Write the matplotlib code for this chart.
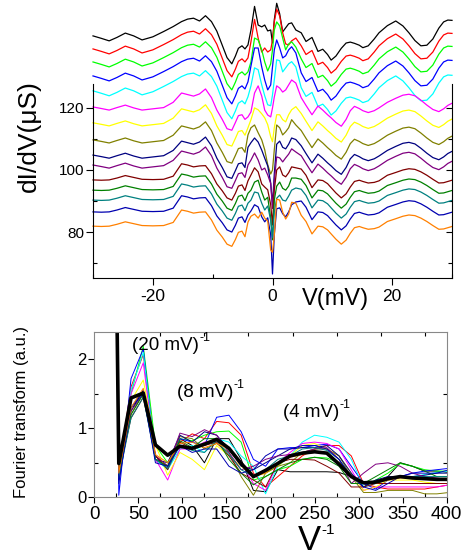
import numpy as np
import matplotlib
matplotlib.use('Agg')
import matplotlib.pyplot as plt
from matplotlib.ticker import MultipleLocator, FixedLocator

plt.rcParams['font.family'] = ['Liberation Sans', 'DejaVu Sans']
plt.rcParams['mathtext.fontset'] = 'custom'
plt.rcParams['mathtext.rm'] = 'Liberation Sans'
plt.rcParams['mathtext.it'] = 'Liberation Sans:italic'
plt.rcParams['axes.unicode_minus'] = False

# ---- top panel: dI/dV spectra (offset curves) ----
COLORS = ['#000000', '#ff0000', '#00ff00', '#0000ff', '#00ffff', '#ff00ff', '#ffff00',
          '#808000', '#000080', '#800080', '#800000', '#008000', '#008080', '#0000b0', '#ff8000']
START = [143.2, 139.0, 134.8, 130.3, 125.5, 120.3, 115.2, 109.7, 104.8, 101.6, 96.8, 93.5, 90.3, 86.5, 81.9]
GROUP = [0, 0, 0, 0, 0, 1, 1, 1, 1, 1, 2, 2, 2, 2, 2]

V_LEFT = [-30, -28.6, -27.3, -26, -24.6, -23.2, -21.8, -20, -18.2, -16.6, -15.2, -14.2, -13.2,
          -12.2, -11.2, -10.2, -9.3, -8.4, -7.6, -6.8, -6.2, -5.7, -5.1, -4.6]
LEFT_TOP = [0, -0.8, -1.6, -0.5, 0.9, 0.0, -1.3, -0.3, 1.4, 3.0, 4.6, 5.4, 5.7, 4.8, 6.5, 4.6,
            1.5, -3.0, -7.0, -9.0, -6.5, -4.0, -3.2, -4.2]
LEFT_MID = [0, -0.5, -1.0, -0.2, 0.6, -0.3, -1.0, -0.6, -0.2, 1.5, 4.5, 4.0, 3.5, 4.2, 5.8, 3.0,
            -1.0, -4.0, -7.0, -7.5, -5.0, -2.8, -2.5, -4.0]
LEFT_BOT = [0, -0.1, 0.0, 0.6, 1.4, 0.8, 0.2, 0.1, 0.2, 1.2, 5.2, 4.8, 4.2, 4.5, 4.6, 2.0,
            -1.3, -3.5, -5.8, -6.5, -4.3, -2.0, -1.6, -3.4]

V_CENTER = [-4.1, -3.6, -3.0, -2.4, -1.8, -1.3, -0.8, -0.3, 0.0, 0.3, 0.7, 1.2, 1.7, 2.2, 2.7, 3.2, 3.9]
CENTER = [
    [-2.9, 1.9, 9.5, 3.5, 2.9, 3.5, 1.6, 1.9, -2.3, 5.2, 10.5, 7.1, 1.3, 2.6, 3.9, 4.2, 1.9],
    [-2.9, 2.3, 9.5, 3.5, -1.0, 0.3, -1.0, -0.3, 2.9, 8.7, 12.8, 10.6, 5.2, 1.6, 1.3, 2.6, 3.5],
    [-3.2, 0.0, 7.7, 7.1, 3.9, 0.0, -2.9, -0.6, 3.9, 10.3, 12.9, 11.6, 7.7, 3.9, 5.8, 6.5, 4.8],
    [-1.9, 3.2, 9.0, 9.0, 2.9, -1.3, -4.5, -2.9, 2.9, 8.4, 11.6, 9.0, 5.8, 6.5, 8.4, 9.4, 7.4],
    [-1.9, 1.6, 7.4, 6.8, 1.9, -1.6, -4.5, -4.8, -1.3, 3.5, 10.0, 9.7, 6.1, 7.4, 8.7, 9.4, 7.7],
    [-3.2, -1.6, 4.5, 6.8, 3.5, -1.0, -2.6, -3.2, -0.3, 3.2, 6.8, 6.1, 4.8, 5.5, 7.1, 8.7, 7.7],
    [-1.6, 1.0, 4.8, 4.2, 2.9, 1.6, -0.6, -4.5, -6.1, -1.6, 2.6, 2.6, 1.0, 0.3, 2.6, 4.2, 5.2],
    [1.6, 3.9, 4.8, 2.3, 0.0, -3.2, -8.0, -11.0, -9.7, -3.2, 4.8, 3.9, 1.6, 2.6, 3.9, 6.5, 4.8],
    [2.5, 4.0, 5.5, 4.2, 1.6, -1.0, -3.5, -9.0, -16.0, -6.0, 3.5, 4.5, 2.5, 2.0, 3.5, 5.5, 5.0],
    [0.0, 1.6, 3.9, 1.6, -1.6, -1.0, -3.2, -6.0, -14.0, -5.0, 2.6, 2.3, 1.0, 2.3, 3.5, 5.2, 4.2],
    [-0.3, 1.6, 3.9, 2.6, -1.3, -2.3, -3.2, -8.0, -14.5, -3.2, 3.2, 4.2, 1.6, 1.0, 2.3, 4.2, 3.9],
    [-1.0, 0.0, 2.6, 3.2, -0.6, -3.2, -2.3, -9.0, -16.0, -3.2, 1.3, 2.6, 0.6, 0.0, 1.3, 3.9, 3.9],
    [-1.0, 0.0, 2.6, 2.3, -1.0, -3.2, -1.9, -6.5, -12.0, -3.9, 0.6, 1.6, 0.0, -0.3, 1.3, 3.2, 3.9],
    [-1.0, 0.3, 2.3, 1.6, -1.6, -3.2, -1.9, -7.4, -20.0, -7.4, 1.0, 1.3, -0.6, -1.6, 0.0, 2.3, 3.2],
    [1.3, 3.2, 3.9, 2.6, 4.5, 2.6, 1.6, -7.7, -8.4, -2.9, 8.7, 8.4, 4.5, 2.3, 3.9, 7.7, 7.4],
]

V_RIGHT = [4.8, 5.6, 6.6, 7.6, 8.4, 9.2, 9.8, 10.6, 11.5, 12.3, 13.0, 13.7, 14.5, 15.1, 16.0,
           17.0, 17.8, 19.2, 20.6, 21.8, 22.8, 23.8, 24.8, 25.8, 26.8, 27.8, 28.6, 29.3, 30.0]
RIGHT_TOP = [1.0, -1.8, -0.5, -5.0, -4.3, -6.0, -7.8, -6.5, -4.0, -2.3, -2.0, -2.4, -3.0, -3.8,
             -3.2, -1.0, 1.0, 3.3, 4.8, 3.2, 1.0, -1.5, -3.2, -3.0, -1.0, 2.5, 4.5, 5.1, 5.0]
RIGHT_MID = [3.0, 0.5, -2.5, 0.3, -1.0, -2.5, -3.5, -5.0, -6.2, -4.0, -1.2, 0.2, -0.5, -1.2,
             -1.8, -1.2, -0.3, 1.5, 2.8, 3.8, 4.1, 3.6, 2.2, 0.6, -0.8, -1.5, -0.6, 0.5, 1.2]
RIGHT_BOT = [3.5, 1.5, -2.5, 0.0, -0.2, -1.2, -2.5, -4.2, -5.8, -4.5, -2.3, -0.5, -0.1, -0.5,
             -1.0, -0.8, -0.3, 1.5, 2.4, 3.2, 3.6, 3.4, 2.6, 1.5, 0.2, -1.0, -0.9, -0.5, -0.1]

LEFT = [LEFT_TOP, LEFT_MID, LEFT_BOT]
RIGHT = [RIGHT_TOP, RIGHT_MID, RIGHT_BOT]

# ---- bottom panel: Fourier transforms ----
FREQ = [13.9, 27.8, 41.7, 55.6, 69.4, 83.3, 97.2, 111.1, 125.0, 138.9, 152.8, 166.7, 180.6, 194.4,
        208.3, 222.2, 236.1, 250.0, 263.9, 277.8, 291.7, 305.6, 319.4, 333.3, 347.2, 361.1, 375.0,
        388.9, 402.8]
FT = [
    [15, 0.45, 1.25, 1.55, 0.6, 0.45, 0.85, 0.75, 0.5, 0.85, 0.85, 0.55, 0.1, 0.08, 0.4, 0.37, 0.37, 0.37, 0.37, 0.36, 0.3, 0.2, 0.2, 0.3, 0.5, 0.45, 0.38, 0.38, 0.36],
    [18, 0.4, 1.6, 2.07, 0.6, 0.45, 0.8, 0.92, 0.85, 1.1, 1.08, 0.9, 0.35, 0.15, 0.3, 0.45, 0.6, 0.7, 0.75, 0.75, 0.6, 0.2, 0.15, 0.12, 0.12, 0.12, 0.12, 0.15, 0.18],
    [20, 0.3, 1.5, 2.19, 0.75, 0.5, 0.85, 0.82, 0.9, 0.95, 0.96, 0.8, 0.25, 0.3, 0.4, 0.45, 0.55, 0.58, 0.57, 0.5, 0.3, 0.15, 0.25, 0.35, 0.49, 0.45, 0.4, 0.38, 0.38],
    [25, 0.03, 1.72, 2.15, 0.55, 0.42, 0.85, 0.8, 0.75, 1.16, 1.19, 0.95, 0.55, 0.45, 0.7, 0.72, 0.72, 0.75, 0.77, 0.7, 0.45, 0.2, 0.12, 0.25, 0.3, 0.35, 0.38, 0.4, 0.42],
    [22, 0.35, 1.55, 2.1, 0.55, 0.4, 0.7, 0.75, 0.65, 0.85, 0.8, 0.6, 0.45, 0.05, 0.45, 0.6, 0.8, 0.9, 0.87, 0.8, 0.55, 0.15, 0.2, 0.25, 0.3, 0.3, 0.33, 0.36, 0.38],
    [18, 0.3, 1.5, 1.95, 0.55, 0.25, 0.7, 0.7, 0.8, 0.82, 0.7, 0.5, 0.2, 0.1, 0.5, 0.65, 0.78, 0.8, 0.78, 0.7, 0.4, 0.1, 0.15, 0.15, 0.15, 0.15, 0.15, 0.15, 0.18],
    [16, 0.35, 1.4, 1.7, 0.76, 0.32, 0.65, 0.55, 0.4, 0.75, 0.6, 0.45, 0.3, 0.35, 0.45, 0.6, 0.75, 0.78, 0.7, 0.6, 0.35, 0.1, 0.15, 0.25, 0.25, 0.25, 0.22, 0.2, 0.2],
    [15, 0.3, 1.2, 1.5, 0.55, 0.45, 0.88, 0.85, 0.7, 0.78, 0.65, 0.3, 0.03, 0.35, 0.45, 0.5, 0.65, 0.7, 0.7, 0.6, 0.3, 0.07, 0.07, 0.1, 0.1, 0.1, 0.05, 0.05, 0.07],
    [16, 0.25, 1.3, 1.55, 0.55, 0.5, 0.9, 0.8, 0.95, 0.9, 0.7, 0.45, 0.4, 0.5, 0.6, 0.7, 0.72, 0.72, 0.75, 0.6, 0.35, 0.15, 0.25, 0.3, 0.3, 0.3, 0.32, 0.35, 0.35],
    [15, 0.3, 1.25, 1.5, 0.6, 0.45, 0.93, 0.88, 0.98, 0.9, 0.65, 0.4, 0.45, 0.55, 0.6, 0.62, 0.65, 0.7, 0.72, 0.55, 0.2, 0.35, 0.48, 0.5, 0.45, 0.35, 0.3, 0.28, 0.25],
    [14, 0.35, 1.15, 1.45, 0.6, 0.4, 0.8, 0.7, 0.75, 0.8, 0.6, 0.35, 0.25, 0.15, 0.5, 0.55, 0.55, 0.54, 0.45, 0.35, 0.15, 0.15, 0.2, 0.2, 0.2, 0.2, 0.2, 0.2, 0.2],
    [15, 0.3, 1.2, 1.5, 0.55, 0.45, 0.82, 0.72, 0.85, 0.85, 0.55, 0.35, 0.18, 0.3, 0.4, 0.5, 0.55, 0.58, 0.55, 0.45, 0.2, 0.2, 0.3, 0.4, 0.5, 0.45, 0.38, 0.3, 0.3],
    [14, 0.28, 1.15, 1.45, 0.55, 0.42, 0.75, 0.68, 0.65, 0.82, 0.62, 0.4, 0.3, 0.4, 0.55, 0.6, 0.7, 0.72, 0.68, 0.55, 0.3, 0.2, 0.22, 0.28, 0.3, 0.3, 0.3, 0.3, 0.3],
    [16, 0.2, 1.3, 1.5, 0.5, 0.45, 0.75, 0.65, 0.7, 0.7, 0.45, 0.35, 0.4, 0.6, 0.7, 0.7, 0.75, 0.75, 0.7, 0.55, 0.3, 0.15, 0.1, 0.2, 0.3, 0.35, 0.35, 0.35, 0.4],
    [15, 0.35, 1.3, 1.58, 0.62, 0.5, 0.78, 0.8, 0.72, 0.78, 0.7, 0.5, 0.3, 0.35, 0.5, 0.58, 0.62, 0.65, 0.65, 0.5, 0.3, 0.2, 0.2, 0.25, 0.28, 0.28, 0.26, 0.25, 0.24],
]
FT_MEAN = [15, 0.49, 1.44, 1.51, 0.76, 0.61, 0.74, 0.71, 0.77, 0.84, 0.71, 0.49, 0.30, 0.39, 0.49,
           0.60, 0.64, 0.66, 0.64, 0.48, 0.30, 0.21, 0.22, 0.27, 0.30, 0.28, 0.27, 0.26, 0.26]

PEAK_LABELS = ['(20 mV)', '(8 mV)', '(4 mV)']
PEAK_POS = [(42.8, 2.13), (93.9, 1.46), (214, 1.16)]

W, H = 466, 555
fig = plt.figure(figsize=(W / 100, H / 100), dpi=100)
renderer = fig.canvas.get_renderer()


def add_super(txt, sup_size, dy):
    # small "-1" exponent placed just after the end of a text
    bb = txt.get_window_extent(renderer=renderer)
    x, y = fig.transFigure.inverted().transform((bb.x1 + 0.5, bb.y1 - dy))
    fig.text(x, y, '-1', fontsize=sup_size, ha='left', va='center')


# top panel
ax1 = fig.add_axes([93 / W, 1 - 278 / H, 359 / W, 194 / H])
v_all = V_LEFT + V_CENTER + V_RIGHT
for i in range(len(COLORS)):
    g = GROUP[i]
    prof = np.array(LEFT[g] + CENTER[i] + RIGHT[g])
    ax1.plot(v_all, START[i] + prof, color=COLORS[i], lw=0.9, clip_on=False)

ax1.set_xlim(-30, 30)
ax1.set_ylim(65.2, 127.7)
ax1.spines['top'].set_visible(False)
ax1.xaxis.set_major_locator(FixedLocator([-20, 0, 20]))
ax1.xaxis.set_minor_locator(MultipleLocator(10))
ax1.yaxis.set_major_locator(FixedLocator([80, 100, 120]))
ax1.yaxis.set_minor_locator(MultipleLocator(10))
ax1.tick_params(axis='both', which='major', direction='out', length=5, width=0.8)
ax1.tick_params(axis='x', which='major', labelsize=12.5, pad=3)
ax1.tick_params(axis='y', which='major', labelsize=11, pad=1)
ax1.tick_params(axis='both', which='minor', direction='in', length=3, width=0.8)
ax1.tick_params(axis='y', which='both', right=True)
for t in ax1.yaxis.get_major_ticks():
    t.tick2line.set_marker(0)
    t.tick2line.set_markersize(4)
fig.text(335 / W, 1 - 299 / H, 'V(mV)', fontsize=17, ha='center', va='center')
fig.text(29 / W, 1 - 136 / H, 'dI/dV(\u03bcS)', fontsize=19, rotation=90, ha='center', va='center')

# bottom panel
ax2 = fig.add_axes([94.3 / W, 1 - 497.3 / H, 352.4 / W, 165.6 / H])
for i in range(len(COLORS)):
    ax2.plot(FREQ, FT[i], color=COLORS[i], lw=0.7)
ax2.plot(FREQ, FT_MEAN, color='black', lw=2.6)

ax2.set_xlim(0, 400)
ax2.set_ylim(0, 2.4)
ax2.xaxis.set_major_locator(MultipleLocator(50))
ax2.xaxis.set_minor_locator(MultipleLocator(25))
ax2.yaxis.set_major_locator(MultipleLocator(1))
ax2.yaxis.set_minor_locator(MultipleLocator(0.5))
ax2.tick_params(axis='both', which='major', direction='out', length=4.5, width=0.8)
ax2.tick_params(axis='x', which='major', labelsize=13.5, pad=2)
ax2.tick_params(axis='y', which='major', labelsize=12, pad=1)
ax2.tick_params(axis='both', which='minor', direction='in', length=3, width=0.8, top=True, right=True)
ax2.tick_params(axis='both', which='major', top=True, right=True)
for t in ax2.xaxis.get_major_ticks() + ax2.yaxis.get_major_ticks():
    t.tick2line.set_markersize(0)
for sp in ax2.spines.values():
    sp.set_color('#888888')

for lab, (x, y) in zip(PEAK_LABELS, PEAK_POS):
    t = ax2.text(x, y, lab, fontsize=13.5, ha='left', va='baseline')
    add_super(t, 9, 1)

fig.text(22 / W, 1 - 412 / H, 'Fourier transform (a.u.)', fontsize=12, rotation=90, ha='center', va='center')
tv = fig.text(309 / W, 1 - 540 / H, 'V', fontsize=25, ha='center', va='center')
add_super(tv, 11, 7)

fig.savefig('out.png', dpi=100)
